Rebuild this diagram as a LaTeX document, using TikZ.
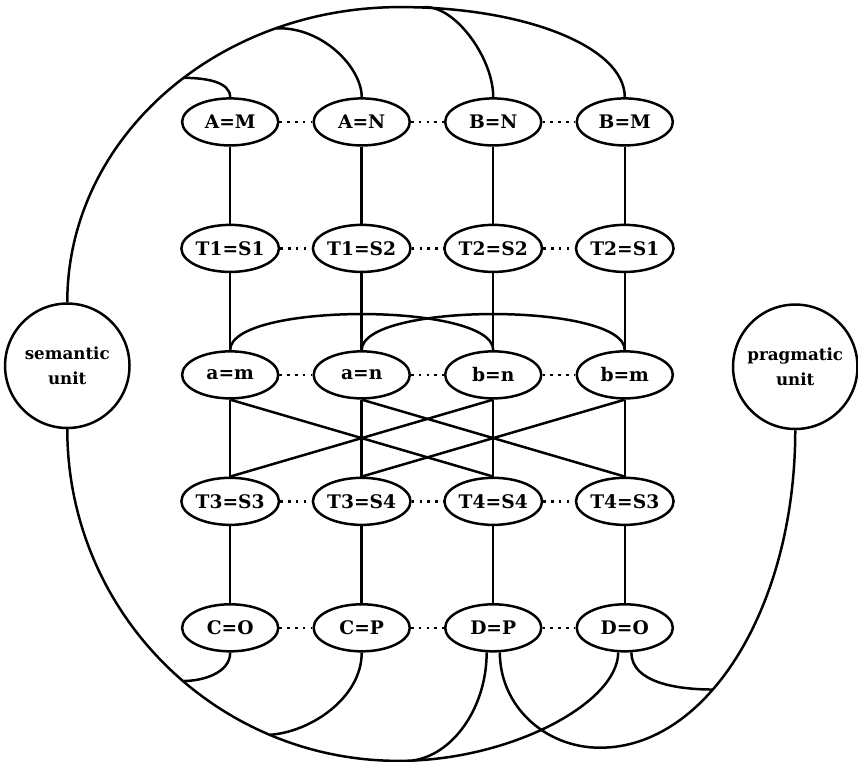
\documentclass[tikz,border=0pt]{standalone}
\usepackage{fontspec}
\setmainfont{DejaVu Serif}
\usetikzlibrary{shapes.geometric}

\begin{document}
\begin{tikzpicture}
        \tikzstyle{pair} = [ellipse, draw, line width=1.4pt, minimum width=1.9cm, minimum height=0.93cm, inner sep=0pt, font=\bfseries\fontsize{10.5}{12}\selectfont]
        \tikzstyle{unit} = [circle, draw, line width=1.4pt, minimum size=2.46cm, inner sep=0pt, align=center, font=\bfseries\fontsize{9.4}{14}\selectfont]
        \tikzstyle{edge} = [line width=1.4pt]
        \tikzstyle{match} = [line width=1.4pt, dash pattern=on 1.4pt off 3pt]

        \useasboundingbox (-4.55, 2.41) rectangle (12.41, -12.65);

        \node[unit](sem) at(-3.22, -4.82) {semantic\\unit};
        \node[unit](prag) at(11.17, -4.84) {pragmatic\\unit};

        \node[pair](AM) at(0, 0) {A=M};
        \node[pair](AN) at(2.6, 0) {A=N};
        \node[pair](BN) at(5.2, 0) {B=N};
        \node[pair](BM) at(7.8, 0) {B=M};

        \node[pair](T1S1) at(0, -2.5) {T1=S1};
        \node[pair](T1S2) at(2.6, -2.5) {T1=S2};
        \node[pair](T2S2) at(5.2, -2.5) {T2=S2};
        \node[pair](T2S1) at(7.8, -2.5) {T2=S1};

        \node[pair](am) at(0, -5) {a=m};
        \node[pair](an) at(2.6, -5) {a=n};
        \node[pair](bn) at(5.2, -5) {b=n};
        \node[pair](bm) at(7.8, -5) {b=m};

        \node[pair](T3S3) at(0, -7.5) {T3=S3};
        \node[pair](T3S4) at(2.6, -7.5) {T3=S4};
        \node[pair](T4S4) at(5.2, -7.5) {T4=S4};
        \node[pair](T4S3) at(7.8, -7.5) {T4=S3};

        \node[pair](CO) at(0, -10) {C=O};
        \node[pair](CP) at(2.6, -10) {C=P};
        \node[pair](DP) at(5.2, -10) {D=P};
        \node[pair](DO) at(7.8, -10) {D=O};

        % rows
        \draw[match] (AM) -- (AN) -- (BN) -- (BM);
        \draw[match] (T1S1) -- (T1S2) -- (T2S2) -- (T2S1);
        \draw[match] (am) -- (an) -- (bn) -- (bm);
        \draw[match] (T3S3) -- (T3S4) -- (T4S4) -- (T4S3);
        \draw[match] (CO) -- (CP) -- (DP) -- (DO);

        % columns
        \draw[edge] (AM) -- (T1S1) -- (am) -- (T3S3) -- (CO);
        \draw[edge] (AN) -- (T1S2) -- (an) -- (T3S4) -- (CP);
        \draw[edge] (BN) -- (T2S2) -- (bn) -- (T4S4) -- (DP);
        \draw[edge] (BM) -- (T2S1) -- (bm) -- (T4S3) -- (DO);

        \draw[edge] (am.north) .. controls +(0, 0.95) and +(0, 0.95) .. (bn.north);
        \draw[edge] (an.north) .. controls +(0, 0.95) and +(0, 0.95) .. (bm.north);
        \draw[edge] (am.south) -- (T4S4.north);
        \draw[edge] (an.south) -- (T4S3.north);
        \draw[edge] (bn.south) -- (T3S3.north);
        \draw[edge] (bm.south) -- (T3S4.north);

        % semantic unit, top
        \draw[edge] (sem.north) .. controls +(0, 3.24) and +(-3.63, 0) .. coordinate[pos=0.55](jam) coordinate[pos=0.76](jan) (3.36, 2.27)
              .. controls +(2.45, 0) and +(0, 1) .. coordinate[pos=0.06](jbn) (BM.north);
        \draw[edge] (AM.north) .. controls +(0, 0.3) and +(0.45, 0) .. (jam);
        \draw[edge] (AN.north) .. controls +(0, 0.6) and +(0.9, 0.05) .. (jan);
        \draw[edge] (BN.north) .. controls +(0, 0.8) and +(0.6, 0.1) .. (jbn);

        % semantic unit, bottom
        \draw[edge] (sem.south) .. controls +(0, -3.62) and +(-3.62, 0) .. coordinate[pos=0.55](jco) coordinate[pos=0.75](jcp) (3.33, -12.63)
              .. controls +(2.2, 0) and +(0, -1) .. coordinate[pos=0.04](jdp) (DO.-105);
        \draw[edge] (CO.south) .. controls +(0, -0.4) and +(0.4, 0) .. (jco);
        \draw[edge] (CP.south) .. controls +(0, -0.9) and +(0.8, 0.05) .. (jcp);
        \draw[edge] (DP.-105) .. controls +(0, -1.1) and +(0.8, 0.1) .. (jdp);

        % pragmatic unit
        \draw[edge] (prag.south) .. controls +(0, -3.48) and +(2.13, 0) .. coordinate[pos=0.61](jdo) (7.31, -12.37)
              .. controls +(-1.1, 0) and +(0, -1.05) .. (DP.-75);
        \draw[edge] (DO.-75) .. controls +(0, -0.6) and +(-0.7, 0) .. (jdo);
    \end{tikzpicture}
\end{document}
